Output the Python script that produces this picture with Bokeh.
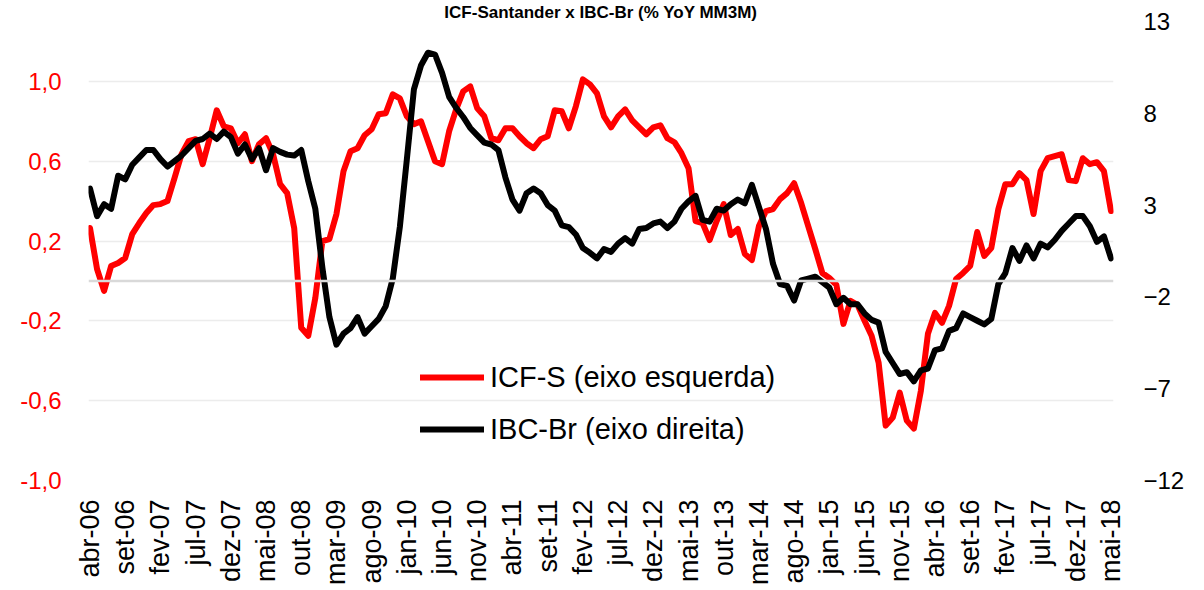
import math
from bokeh.plotting import figure
from bokeh.models import (Range1d, LinearAxis, FixedTicker, CustomJSTickFormatter,
                          Span, Legend, LegendItem)
from bokeh.embed import file_html
from bokeh.resources import INLINE

# ---------------- data ----------------
month_names = ["jan", "fev", "mar", "abr", "mai", "jun", "jul", "ago", "set", "out", "nov", "dez"]
n_months = 146  # abr-06 .. mai-18
months = [f"{month_names[(3 + i) % 12]}-{((2006 * 12 + 3 + i) // 12) % 100:02d}" for i in range(n_months)]

# ICF-S (left axis)
icf = [0.265, 0.06, -0.05, 0.075, 0.09, 0.115, 0.235, 0.29, 0.34, 0.38,
       0.385, 0.40, 0.515, 0.635, 0.70, 0.71, 0.585, 0.715, 0.855, 0.775,
       0.765, 0.69, 0.735, 0.60, 0.685, 0.715, 0.635, 0.485, 0.44, 0.265,
       -0.235, -0.275, -0.085, 0.20, 0.21, 0.335, 0.55, 0.65, 0.665, 0.73,
       0.76, 0.835, 0.84, 0.935, 0.915, 0.825, 0.785, 0.80, 0.70, 0.60,
       0.585, 0.75, 0.86, 0.95, 0.975, 0.865, 0.825, 0.715, 0.705, 0.765,
       0.765, 0.725, 0.69, 0.665, 0.71, 0.725, 0.855, 0.85, 0.765, 0.875,
       1.01, 0.985, 0.94, 0.825, 0.77, 0.825, 0.86, 0.805, 0.77, 0.735,
       0.77, 0.78, 0.715, 0.695, 0.64, 0.565, 0.30, 0.29, 0.205, 0.30,
       0.385, 0.23, 0.26, 0.135, 0.105, 0.275, 0.35, 0.36, 0.41, 0.44,
       0.49, 0.39, 0.275, 0.16, 0.04, 0.015, -0.02, -0.215, -0.10, -0.12,
       -0.20, -0.275, -0.41, -0.725, -0.685, -0.56, -0.70, -0.74, -0.55, -0.265,
       -0.16, -0.21, -0.125, 0.01, 0.04, 0.075, 0.245, 0.125, 0.165, 0.36,
       0.485, 0.485, 0.54, 0.505, 0.335, 0.55, 0.615, 0.625, 0.635, 0.505,
       0.50, 0.615, 0.585, 0.595, 0.55, 0.35]

# IBC-Br (right axis)
ibc = [3.9, 2.4, 3.05, 2.8, 4.6, 4.4, 5.2, 5.6, 6.0, 6.0,
       5.5, 5.1, 5.4, 5.7, 6.1, 6.5, 6.6, 6.9, 6.6, 7.0,
       6.7, 5.8, 6.3, 5.5, 6.1, 4.9, 6.1, 5.9, 5.75, 5.7,
       6.0, 4.3, 2.8, -0.4, -3.1, -4.6, -4.0, -3.7, -3.1, -4.0,
       -3.6, -3.2, -2.5, -1.0, 1.8, 5.5, 9.3, 10.6, 11.3, 11.2,
       10.2, 8.9, 8.3, 7.8, 7.2, 6.8, 6.4, 6.3, 6.0, 4.5,
       3.3, 2.7, 3.65, 3.9, 3.65, 3.0, 2.7, 1.9, 1.8, 1.4,
       0.66, 0.4, 0.1, 0.6, 0.45, 0.9, 1.2, 0.9, 1.7, 1.75,
       2.0, 2.1, 1.75, 2.1, 2.8, 3.2, 3.5, 2.2, 2.1, 2.8,
       2.7, 3.05, 3.3, 3.1, 4.1, 2.9, 1.7, -0.2, -1.3, -1.4,
       -2.2, -1.1, -1.0, -0.9, -1.2, -1.5, -2.4, -2.05, -2.4, -2.4,
       -2.9, -3.25, -3.4, -5.0, -5.6, -6.2, -6.1, -6.6, -6.0, -5.9,
       -4.9, -4.8, -3.85, -3.7, -2.9, -3.1, -3.3, -3.5, -3.2, -1.3,
       -0.7, 0.66, -0.04, 0.8, 0.1, 0.9, 0.7, 1.1, 1.6, 2.0,
       2.4, 2.4, 1.85, 1.0, 1.3, 0.1]

left_ticks = [-1.0, -0.6, -0.2, 0.2, 0.6, 1.0]
right_ticks = [-12, -7, -2, 3, 8, 13]
tick_idx = list(range(0, n_months, 5))
tick_labels = {i: months[i] for i in tick_idx}

title_text = "ICF-Santander x IBC-Br (% YoY MM3M)"
legend_labels = ["ICF-S (eixo esquerda)", "IBC-Br (eixo direita)"]

FONT = "Liberation Sans"
RED = "#ff0000"

# ---------------- figure ----------------
p = figure(width=1204, height=590,
           x_range=Range1d(-0.213, 145.355), y_range=Range1d(-1.0, 1.3),
           output_backend="svg", toolbar_location=None,
           min_border_left=88, min_border_right=91,
           min_border_top=20, min_border_bottom=110,
           title=title_text)
p.title.text_font = FONT
p.title.text_font_style = "bold"
p.title.text_font_size = "17px"
p.title.text_color = "#000000"
p.title.align = "center"
p.title.standoff = 0
p.title.offset = 30
p.extra_y_ranges = {"ibc": Range1d(-12, 13)}
p.outline_line_color = None
p.background_fill_color = "white"
p.border_fill_color = "white"

# grid
p.xgrid.grid_line_color = None
p.ygrid.ticker = FixedTicker(ticks=left_ticks)
p.ygrid.grid_line_color = "#ececec"
p.ygrid.grid_line_width = 1.5
p.add_layout(Span(location=0, dimension="width", line_color="#d9d9d9", line_width=2.5))

x = list(range(len(months)))
r1 = p.line(x, icf, line_color=RED, line_width=6, line_join="round", line_cap="round")
r2 = p.line(x, ibc, line_color="#000000", line_width=6, line_join="round", line_cap="round",
            y_range_name="ibc")

# left axis
ya = p.yaxis[0]
ya.ticker = FixedTicker(ticks=left_ticks)
ya.formatter = CustomJSTickFormatter(code="return tick.toFixed(1).replace('.', ',');")
ya.major_label_text_color = RED
ya.major_label_text_font = FONT
ya.major_label_text_font_size = "24px"
ya.major_label_standoff = 21
ya.axis_line_color = None
ya.major_tick_line_color = None
ya.minor_tick_line_color = None

# right axis
ra = LinearAxis(y_range_name="ibc", ticker=FixedTicker(ticks=right_ticks))
ra.major_label_text_color = "#000000"
ra.major_label_text_font = FONT
ra.major_label_text_font_size = "24px"
ra.major_label_standoff = 24
ra.axis_line_color = None
ra.major_tick_line_color = None
ra.minor_tick_line_color = None
p.add_layout(ra, "right")

# x axis
xa = p.xaxis[0]
xa.ticker = FixedTicker(ticks=tick_idx)
xa.major_label_overrides = tick_labels
xa.major_label_orientation = math.pi / 2
xa.major_label_text_font = FONT
xa.major_label_text_font_size = "27px"
xa.major_label_text_color = "#000000"
xa.major_label_standoff = 13
xa.axis_line_color = None
xa.major_tick_line_color = None
xa.minor_tick_line_color = None

# legend
legend = Legend(items=[LegendItem(label=legend_labels[0], renderers=[r1]),
                       LegendItem(label=legend_labels[1], renderers=[r2])],
                location=(332, 31), glyph_width=64, glyph_height=40, label_height=40,
                label_text_font=FONT, label_text_font_size="29px", label_text_color="#000000",
                label_standoff=6, spacing=12, padding=0, margin=0,
                border_line_alpha=0, background_fill_alpha=0)
p.add_layout(legend)

open("out.html", "w").write(file_html(p, INLINE, title="ICF Santander x IBC-Br"))
